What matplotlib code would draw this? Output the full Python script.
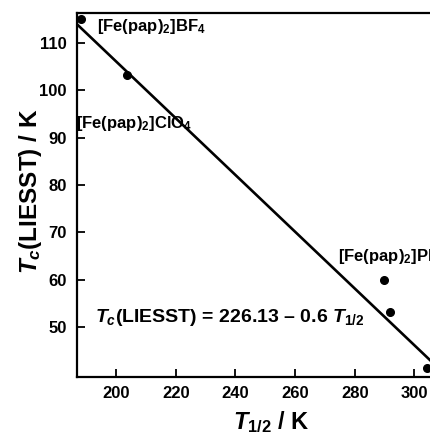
import matplotlib
matplotlib.use("Agg")
import matplotlib.pyplot as plt

# T1/2 (K) vs Tc(LIESST) (K) for the Fe(pap)2 salts
t_half = [188.2, 203.6, 289.8, 291.9, 304.2]
tc_liesst = [115.2, 103.2, 60.0, 53.2, 41.3]

# fitted line Tc(LIESST) = T0 - slope * T1/2
T0 = 226.13
SLOPE = 0.6
fit_t = [186.0, 306.0]

x_ticks = [200, 220, 240, 260, 280, 300]
y_ticks = [50, 60, 70, 80, 90, 100, 110]

labels = [
    (193.5, 113.6, r"[Fe(pap)$_2$]BF$_4$"),
    (186.6, 93.0, r"[Fe(pap)$_2$]ClO$_4$"),
    (274.3, 65.0, r"[Fe(pap)$_2$]PF$_6$"),
]

plt.rcParams["font.family"] = "Liberation Sans"
plt.rcParams["font.weight"] = "bold"
plt.rcParams["mathtext.fontset"] = "custom"
plt.rcParams["mathtext.rm"] = "Liberation Sans:bold"
plt.rcParams["mathtext.it"] = "Liberation Sans:bold:italic"
plt.rcParams["mathtext.bf"] = "Liberation Sans:bold"

fig = plt.figure(figsize=(4.30, 4.34), dpi=100)
ax = fig.add_axes([0.1784, 0.132, 0.8216, 0.8373])

fit_tc = [T0 - SLOPE * t for t in fit_t]
ax.plot(fit_t, fit_tc, color="black", lw=1.9, solid_capstyle="round")
ax.plot(t_half, tc_liesst, "o", color="black", ms=5.5, clip_on=False)

for x, y, s in labels:
    ax.text(x, y, s, fontsize=12, fontweight="bold", va="center", ha="left")

ax.text(192.8, 52.0, r"$T_c$(LIESST) = 226.13 – 0.6 $T_{1/2}$",
        fontsize=14, fontweight="bold", va="center", ha="left")

ax.set_xlim(186.8, 305.2)
ax.set_ylim(39.5, 116.3)
ax.set_xticks(x_ticks)
ax.set_yticks(y_ticks)
ax.tick_params(direction="in", length=6, width=1.3, labelsize=12, pad=7)
for lab in ax.get_xticklabels() + ax.get_yticklabels():
    lab.set_fontweight("bold")

ax.spines["right"].set_visible(False)
for side in ["left", "bottom", "top"]:
    ax.spines[side].set_linewidth(1.6)

ax.set_xlabel(r"$T_{1/2}$ / K", fontsize=17, fontweight="bold")
ax.set_ylabel(r"$T_c$(LIESST) / K", fontsize=17.5, fontweight="bold")
ax.xaxis.set_label_coords(0.55, -0.088)
ax.yaxis.set_label_coords(-0.092, 0.51)

fig.savefig("out.png", dpi=100)
